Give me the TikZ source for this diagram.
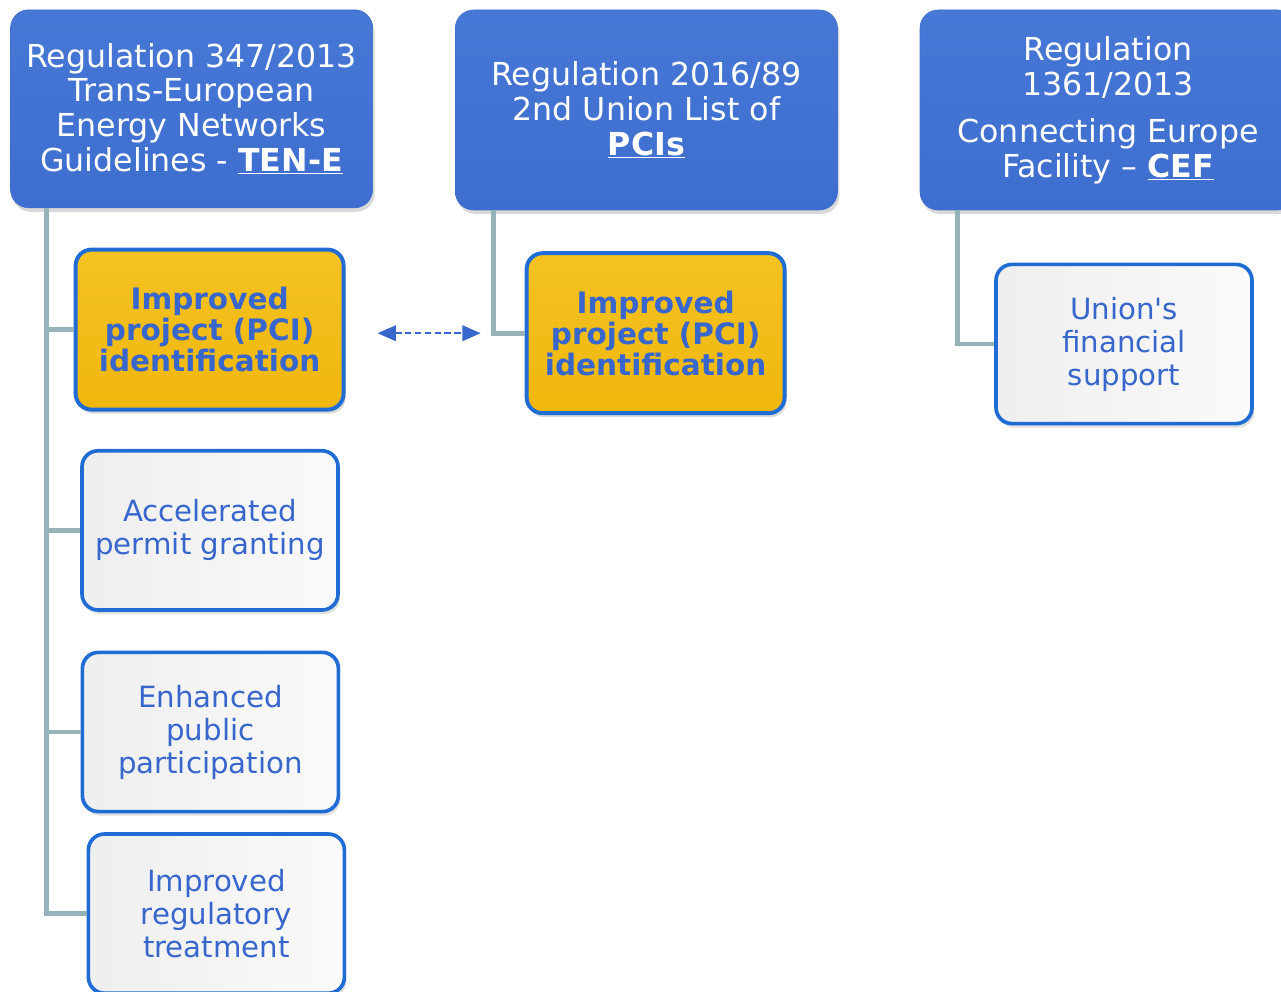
\documentclass[tikz,border=0pt]{standalone}
\usepackage{fontspec}
\setmainfont{DejaVu Sans}
\usetikzlibrary{arrows.meta, positioning, shadows}

\definecolor{regblue}{HTML}{3D6DCE}
\definecolor{regtop}{HTML}{4878D6}
\definecolor{gold}{HTML}{F0B70E}
\definecolor{goldtop}{HTML}{F5C222}
\definecolor{edgeblue}{HTML}{1E6CD4}
\definecolor{inkblue}{HTML}{3766CC}
\definecolor{stem}{HTML}{96B3B7}

\begin{document}
\begin{tikzpicture}[
    node distance=0.9cm,
    regbox/.style={rectangle, rounded corners=0.45cm, draw=regblue, top color=regtop, bottom color=regblue, text=white, align=center, font=\fontsize{22.5}{24.8}\selectfont, drop shadow={opacity=0.3, shadow xshift=0.05cm, shadow yshift=-0.1cm}},
    pcibox/.style={rectangle, rounded corners=0.4cm, draw=edgeblue, line width=2.8pt, top color=goldtop, bottom color=gold, text=inkblue, align=center, font=\bfseries\fontsize{21}{22}\selectfont, minimum width=6.7cm, minimum height=4.0cm, drop shadow={opacity=0.3, shadow xshift=0.05cm, shadow yshift=-0.1cm}},
    aimbox/.style={rectangle, rounded corners=0.4cm, draw=edgeblue, line width=2.6pt, left color=gray!13, right color=gray!4, text=inkblue, align=center, font=\fontsize{20.8}{23.5}\selectfont, minimum width=6.4cm, minimum height=3.98cm, drop shadow={opacity=0.25, shadow xshift=0.05cm, shadow yshift=-0.1cm}},
    link/.style={draw=stem, line width=3.5pt},
    both/.style={{Triangle[length=13pt,width=11pt]}-{Triangle[length=13pt,width=11pt]}, dash pattern=on 4.5pt off 2.5pt, line width=1.6pt, draw=inkblue, fill=inkblue}
]
    \useasboundingbox (0,0) rectangle (32.025,-24.775);

    % the three regulations
    \node[regbox, minimum width=9.05cm, minimum height=4.95cm] (tene) at (4.79,-2.72)
        {Regulation 347/2013\\Trans-European\\Energy Networks\\Guidelines - \underline{\textbf{TEN-E}}};
    \node[regbox, minimum width=9.55cm, minimum height=5cm] (pcis) at (16.16,-2.75)
        {Regulation 2016/89\\2nd Union List of\\\underline{\textbf{PCIs}}};
    \node[regbox, minimum width=9.4cm, minimum height=5cm] (cef) at (27.7,-2.75)
        {Regulation\\1361/2013\\[0.3cm]Connecting Europe\\Facility – \underline{\textbf{CEF}}};

    % what each one brings
    \node[pcibox] (ident) at (5.24,-8.24) {Improved\\project (PCI)\\identification};
    \node[pcibox, minimum width=6.45cm] (listed) at (16.39,-8.33) {Improved\\project (PCI)\\identification};
    \node[aimbox] (fund) at (28.1,-8.6) {Union\textquotesingle s\\financial\\support};
    \node[aimbox] (permit) at (5.25,-13.26) {Accelerated\\permit granting};
    \node[aimbox] (public) at (5.26,-18.3) {Enhanced\\public\\participation};
    \node[aimbox] (treat) at (5.41,-22.84) {Improved\\regulatory\\treatment};

    % stems
    \draw[link] ([xshift=0.9cm]tene.south west) |- (ident.west);
    \draw[link] ([xshift=0.9cm]tene.south west) |- (permit.west);
    \draw[link] ([xshift=0.9cm]tene.south west) |- (public.west);
    \draw[link] ([xshift=0.9cm]tene.south west) |- (treat.west);
    \draw[link] ([xshift=0.95cm]pcis.south west) |- (listed.west);
    \draw[link] ([xshift=0.95cm]cef.south west) |- (fund.west);

    \draw[both, shorten <=0.8cm, shorten >=1.1cm] (listed.west -| ident.east) -- (listed.west);
\end{tikzpicture}
\end{document}
